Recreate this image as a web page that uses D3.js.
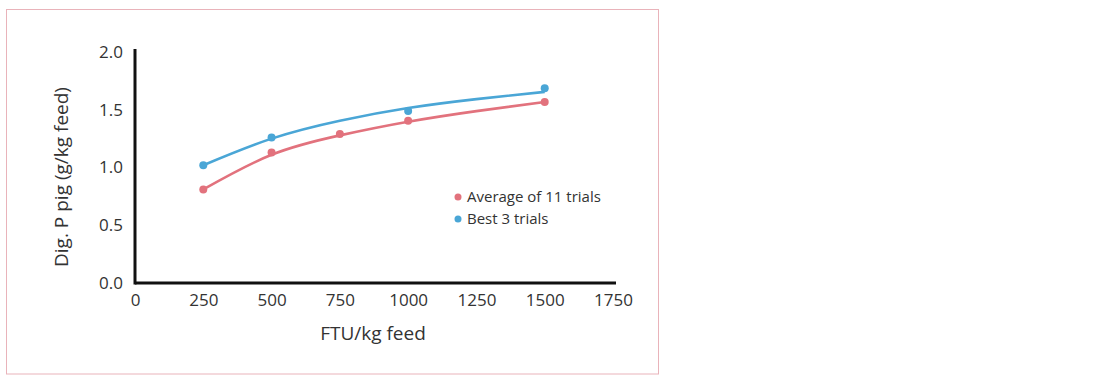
<!DOCTYPE html>
<html>
<head>
<meta charset="utf-8">
<script src="https://cdn.jsdelivr.net/npm/d3@7"></script>
<style>
  body { margin: 0; background: #fff; }
  text { font-family: "Open Sans", "Noto Sans", sans-serif; fill: #333; }
</style>
</head>
<body>
<svg id="chart" width="1100" height="386"></svg>
<script>
// data
const xTicks = [0, 250, 500, 750, 1000, 1250, 1500, 1750];
const yTicks = [0, 0.5, 1.0, 1.5, 2.0];

const avgDoses = [250, 500, 750, 1000, 1500];
const avgValues = [0.81, 1.13, 1.29, 1.405, 1.567];
const bestDoses = [250, 500, 1000, 1500];
const bestValues = [1.02, 1.26, 1.49, 1.686];

// fitted trend lines, as drawn
const trendDoses = [250, 500, 750, 1000, 1250, 1500];
const avgTrend = [0.81, 1.11, 1.278, 1.396, 1.488, 1.567];
const bestTrend = [1.02, 1.25, 1.405, 1.515, 1.592, 1.655];

const seriesNames = ["Average of 11 trials", "Best 3 trials"];
const colors = ["#e2727d", "#4aa6d6"];

const svg = d3.select("#chart");

// outer pink frame
svg.append("rect")
  .attr("x", 6.5).attr("y", 9.5)
  .attr("width", 652).attr("height", 364.5)
  .attr("fill", "none")
  .attr("stroke", "#e9b3ba")
  .attr("stroke-width", 1);

const x = d3.scaleLinear().domain([0, 1750]).range([135, 613]);
const y = d3.scaleLinear().domain([0, 2]).range([283, 52]);

// axes
const xAxis = svg.append("g")
  .attr("transform", `translate(0,${y(0)})`)
  .call(d3.axisBottom(x).tickValues(xTicks).tickSize(0).tickPadding(11).tickFormat(d3.format("d")));
xAxis.select(".domain").attr("stroke", "#111").attr("stroke-width", 3)
  .attr("d", `M${x(0)},0H${x(1750) + 3}`);
xAxis.selectAll("text").attr("font-size", 17).attr("fill", "#333");

const yAxis = svg.append("g")
  .attr("transform", `translate(${x(0)},0)`)
  .call(d3.axisLeft(y).tickValues(yTicks).tickSize(0).tickPadding(12).tickFormat(d3.format(".1f")));
yAxis.select(".domain").attr("stroke", "#111").attr("stroke-width", 3)
  .attr("d", `M0,${y(2) - 3}V${y(0) + 1.5}`);
yAxis.selectAll("text").attr("font-size", 17).attr("fill", "#333");

// axis titles
svg.append("text")
  .attr("x", 373).attr("y", 340)
  .attr("text-anchor", "middle")
  .attr("font-size", 19)
  .text("FTU/kg feed");

svg.append("text")
  .attr("transform", `translate(68,177) rotate(-90)`)
  .attr("text-anchor", "middle")
  .attr("font-size", 19)
  .text("Dig. P pig (g/kg feed)");

// trend lines
const line = d3.line().x(d => x(d[0])).y(d => y(d[1])).curve(d3.curveNatural);

const trends = [d3.zip(trendDoses, avgTrend), d3.zip(trendDoses, bestTrend)];
svg.selectAll(".trend")
  .data(trends)
  .join("path")
  .attr("class", "trend")
  .attr("d", line)
  .attr("fill", "none")
  .attr("stroke", (d, i) => colors[i])
  .attr("stroke-width", 2.6);

// points
const points = [d3.zip(avgDoses, avgValues), d3.zip(bestDoses, bestValues)];
points.forEach((pts, i) => {
  svg.append("g").selectAll("circle")
    .data(pts)
    .join("circle")
    .attr("cx", d => x(d[0]))
    .attr("cy", d => y(d[1]))
    .attr("r", 4)
    .attr("fill", colors[i]);
});

// legend
const legend = svg.append("g").attr("transform", "translate(458,197)");
legend.selectAll("g")
  .data(seriesNames)
  .join("g")
  .attr("transform", (d, i) => `translate(0,${i * 22})`)
  .each(function (d, i) {
    const g = d3.select(this);
    g.append("circle").attr("r", 3.5).attr("fill", colors[i]);
    g.append("text").attr("x", 9).attr("dy", "0.35em").attr("font-size", 15).text(d);
  });
</script>
</body>
</html>
